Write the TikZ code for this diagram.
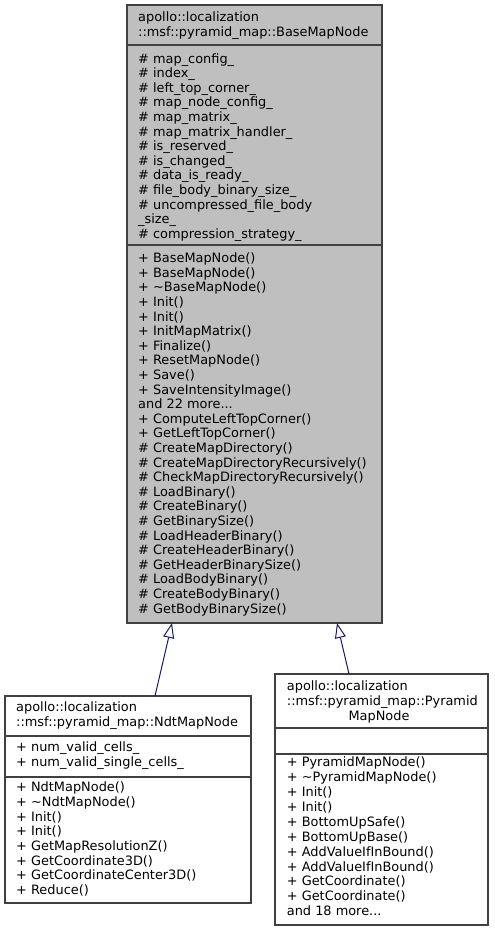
\documentclass[tikz,border=0pt]{standalone}
\usepackage{fontspec}
\setmainfont{DejaVu Sans}
\usetikzlibrary{arrows.meta,calc}
\definecolor{boxline}{HTML}{404040}
\definecolor{boxfill}{HTML}{BFBFBF}
\definecolor{edgeblue}{HTML}{191970}
\newcommand\mytdots{...}
\tikzset{
  umlbox/.style={draw=boxline, line width=1.2pt, anchor=north west, inner sep=0pt, outer sep=0pt},
  sepline/.style={draw=boxline, line width=1.2pt},
  txt/.style={anchor=base west, inner sep=0pt, font=\fontsize{12.9}{14.6}\selectfont},
  ctxt/.style={anchor=base, inner sep=0pt, font=\fontsize{12.9}{14.6}\selectfont},
  inherit/.style={draw=edgeblue, line width=1pt, -{Triangle[open,length=15pt,width=11pt]}},
}
\begin{document}
\begin{tikzpicture}[x=1pt,y=-1pt]
\useasboundingbox (0,0) rectangle (495,932);
% boxes
\node[umlbox, fill=boxfill, minimum width=255pt, minimum height=618pt] (base) at (127,5) {};
\node[umlbox, fill=white, minimum width=246pt, minimum height=207pt] (ndt) at (5,696) {};
\node[umlbox, fill=white, minimum width=213pt, minimum height=251pt] (pyr) at (275,674) {};
% separators
\draw[sepline] ([yshift=-40pt]base.north west) -- ([yshift=-40pt]base.north east);
\draw[sepline] ([yshift=-240pt]base.north west) -- ([yshift=-240pt]base.north east);
\draw[sepline] ([yshift=-40pt]ndt.north west) -- ([yshift=-40pt]ndt.north east);
\draw[sepline] ([yshift=-81pt]ndt.north west) -- ([yshift=-81pt]ndt.north east);
\draw[sepline] ([yshift=-54pt]pyr.north west) -- ([yshift=-54pt]pyr.north east);
\draw[sepline] ([yshift=-80pt]pyr.north west) -- ([yshift=-80pt]pyr.north east);
% base texts
\node[txt] (bh1) at (138,21.7) {apollo::localization};
\node[txt] (bh2) at (138,36.7) {::msf::pyramid\_map::BaseMapNode};
\foreach \t [count=\i from 0] in {\# map\_config\_, \# index\_, \# left\_top\_corner\_, \# map\_node\_config\_, \# map\_matrix\_, \# map\_matrix\_handler\_, \# is\_reserved\_, \# is\_changed\_, \# data\_is\_ready\_, \# file\_body\_binary\_size\_, \# uncompressed\_file\_body, \_size\_, \# compression\_strategy\_}
  \node[txt] (ba\i) at (138,{63+\i*14.6}) {\t};
\foreach \t [count=\i from 0] in {+ BaseMapNode(), + BaseMapNode(), + \textasciitilde BaseMapNode(), + Init(), + Init(), + InitMapMatrix(), + Finalize(), + ResetMapNode(), + Save(), + SaveIntensityImage(), {and 22 more\mytdots}, + ComputeLeftTopCorner(), + GetLeftTopCorner(), \# CreateMapDirectory(), \# CreateMapDirectoryRecursively(), \# CheckMapDirectoryRecursively(), \# LoadBinary(), \# CreateBinary(), \# GetBinarySize(), \# LoadHeaderBinary(), \# CreateHeaderBinary(), \# GetHeaderBinarySize(), \# LoadBodyBinary(), \# CreateBodyBinary(), \# GetBodyBinarySize()}
  \node[txt] (bm\i) at (138,{262.7+\i*14.6}) {\t};
% ndt texts
\node[txt] (nh1) at (16,711.7) {apollo::localization};
\node[txt] (nh2) at (16,726.7) {::msf::pyramid\_map::NdtMapNode};
\node[txt] (na1) at (16,751.7) {+ num\_valid\_cells\_};
\node[txt] (na2) at (16,766.3) {+ num\_valid\_single\_cells\_};
\foreach \t [count=\i from 0] in {+ NdtMapNode(), + \textasciitilde NdtMapNode(), + Init(), + Init(), + GetMapResolutionZ(), + GetCoordinate3D(), + GetCoordinateCenter3D(), + Reduce()}
  \node[txt] (nm\i) at (16,{791.7+\i*14.66}) {\t};
% pyramid texts
\node[txt] (ph1) at (286.7,690) {apollo::localization};
\node[txt] (ph2) at (286.7,705) {::msf::pyramid\_map::Pyramid};
\node[ctxt] (ph3) at (379,720) {MapNode};
\foreach \t [count=\i from 0] in {+ PyramidMapNode(), + \textasciitilde PyramidMapNode(), + Init(), + Init(), + BottomUpSafe(), + BottomUpBase(), + AddValueIfInBound(), + AddValueIfInBound(), + GetCoordinate(), + GetCoordinate(), {and 18 more\mytdots}}
  \node[txt] (pm\i) at (286.7,{766.7+\i*14.9}) {\t};
% inheritance edges
\draw[inherit] ($(ndt.north west)+(150,0)$) -- ($(base.south west)+(45,0)$);
\draw[inherit] ($(pyr.north west)+(74,0)$) -- ($(base.south west)+(210,0)$);
\end{tikzpicture}
\end{document}
